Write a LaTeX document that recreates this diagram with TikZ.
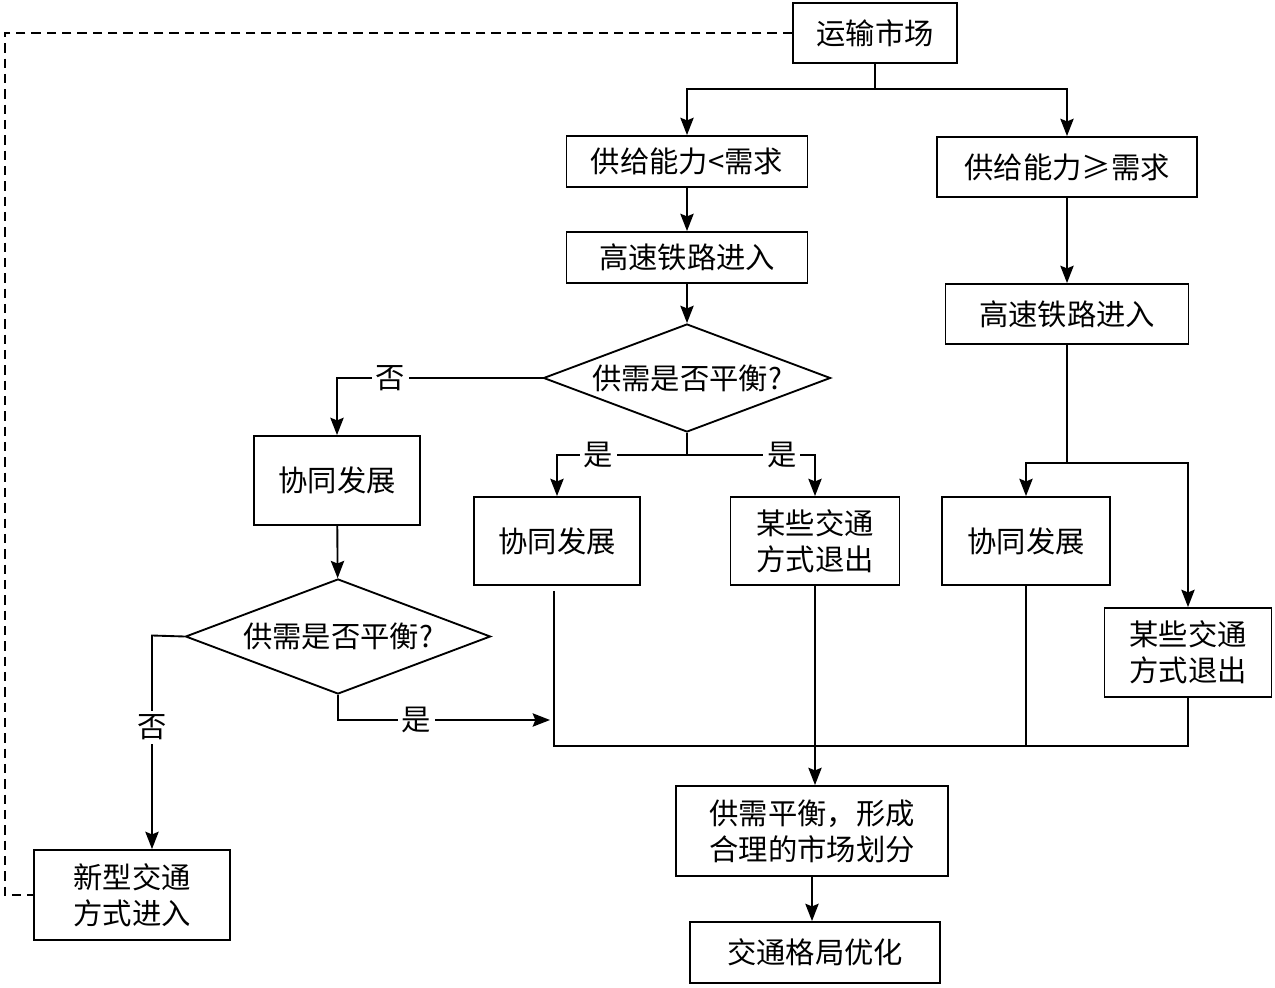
\documentclass[tikz,border=0pt]{standalone}
\usepackage{fontspec}
\newfontfamily\cjk{Noto Sans CJK SC}
\usetikzlibrary{shapes.geometric,arrows.meta,calc}
\begin{document}
\begin{tikzpicture}[x=0.75pt,y=-0.75pt,
  font=\cjk\fontsize{22pt}{27pt}\selectfont,
  box/.style={draw,line width=1.4pt,inner sep=0pt,align=center},
  dia/.style={draw,diamond,shape aspect=2.66,line width=1.4pt,inner sep=0pt},
  ln/.style={line width=1.4pt},
  arr/.style={ln,-{Stealth[length=13pt,width=10pt,inset=2pt]}},
  lbl/.style={fill=white,inner sep=3pt},
  dashline/.style={line width=1.1pt,dash pattern=on 7pt off 4.5pt}]
\useasboundingbox (0,0) rectangle (1275,988);
% nodes
\node[box,minimum width=123pt,minimum height=45pt] (mkt) at (875,33) {运输市场};
\node[box,minimum width=180.75pt,minimum height=38.25pt] (lt) at (687,161.5) {供给能力<需求};
\node[box,minimum width=195pt,minimum height=45pt] (ge) at (1067,167) {供给能力≥需求};
\node[box,minimum width=180.75pt,minimum height=38.25pt] (hsL) at (687,257.5) {高速铁路进入};
\node[box,minimum width=182.25pt,minimum height=45pt] (hsR) at (1067,314) {高速铁路进入};
\node[dia,minimum width=215.25pt,minimum height=81pt] (d1) at (687,378) {供需是否平衡?};
\node[box,minimum width=124.5pt,minimum height=66.75pt] (coL) at (337,480.5) {协同发展};
\node[dia,minimum width=228.75pt,minimum height=86.25pt] (d2) at (338,636.5) {供需是否平衡?};
\node[box,minimum width=124.5pt,minimum height=66pt] (coM) at (557,541) {协同发展};
\node[box,minimum width=126.75pt,minimum height=66pt] (exM) at (815,541) {某些交通\\方式退出};
\node[box,minimum width=126pt,minimum height=66pt] (coR) at (1026,541) {协同发展};
\node[box,minimum width=125.25pt,minimum height=66.75pt] (exR) at (1188,652.5) {某些交通\\方式退出};
\node[box,minimum width=147pt,minimum height=67.5pt] (newT) at (132,895) {新型交通\\方式进入};
\node[box,minimum width=204pt,minimum height=67.5pt] (bal) at (812,831) {供需平衡，形成\\合理的市场划分};
\node[box,minimum width=187.5pt,minimum height=45.75pt] (opt) at (815,952.5) {交通格局优化};
% helper coordinates
\coordinate (j1) at (875,89);
\coordinate (j2) at (687,455);
\coordinate (y463) at (0,463);
\coordinate (c2) at (152,635.5);
\coordinate (c3) at (338,720);
\coordinate (b1) at (554,746);
\coordinate (c4) at (550,720);
\coordinate (dA) at (5,33);
% connectors
\draw[ln] (mkt.south) -- (j1);
\draw[arr] (j1) -| (lt.north);
\draw[arr] (j1) -| (ge.north);
\draw[arr] (lt) -- (hsL);
\draw[arr] (hsL) -- (d1);
\draw[arr] (d1.west) -| (coL.north) node[lbl,pos=0.37] {否};
\draw[arr] (coL) -- (d2);
\draw[arr] (d2.west) -- (c2) -- (c2 |- newT.north) node[lbl,pos=0.43] {否};
\draw[arr] (d2.south) -- (c3) -- (c4) node[lbl,pos=0.37] {是};
\draw[ln] (d1.south) -- (j2);
\draw[arr] (j2) -| (coM.north) node[lbl,pos=0.34] {是};
\draw[arr] (j2) -| (exM.north) node[lbl,pos=0.37] {是};
\draw[arr] (ge) -- (hsR);
\draw[ln] (hsR.south) -- (hsR.south |- y463) coordinate (j3);
\draw[arr] (j3) -| (coR.north);
\draw[arr] (j3) -| (exR.north);
\draw[ln] ($(coM.south)+(-3,5)$) -- (b1) -- (b1 -| exR.south) -- (exR.south);
\draw[ln] (coR.south) -- (coR.south |- b1);
\draw[arr] (exM.south) -- (exM.south |- bal.north);
\draw[arr] (bal.south) -- (bal.south |- opt.north);
\draw[dashline] (mkt.west) -- (dA) |- (newT.west);
\end{tikzpicture}
\end{document}
